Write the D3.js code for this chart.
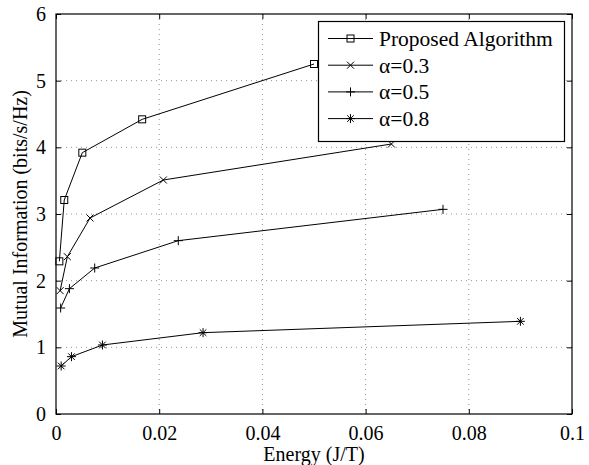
<!DOCTYPE html>
<html>
<head>
<meta charset="utf-8">
<script src="https://cdn.jsdelivr.net/npm/d3@7"></script>
<style>
  body { margin: 0; background: #fff; }
  svg { display: block; font-family: "Liberation Serif", "Times New Roman", serif; }
</style>
</head>
<body>
<svg id="chart" width="589" height="465"></svg>
<script>
// data
const seriesNames = ['Proposed Algorithm', 'α=0.3', 'α=0.5', 'α=0.8'];
const markers = ['square', 'x', 'plus', 'star'];

const energyProposed = [0.00065, 0.0016, 0.0051, 0.0167, 0.050];
const miProposed = [2.29, 3.21, 3.92, 4.42, 5.25];

const energyA03 = [0.0008, 0.0022, 0.0066, 0.0208, 0.065];
const miA03 = [1.85, 2.36, 2.94, 3.51, 4.05];

const energyA05 = [0.0009, 0.0026, 0.0075, 0.0237, 0.075];
const miA05 = [1.59, 1.88, 2.19, 2.60, 3.07];

const energyA08 = [0.001, 0.003, 0.009, 0.0285, 0.090];
const miA08 = [0.72, 0.86, 1.035, 1.22, 1.39];

const xTicks = [0, 0.02, 0.04, 0.06, 0.08, 0.1];
const yTicks = [0, 1, 2, 3, 4, 5, 6];

const series = [
  { name: seriesNames[0], marker: markers[0], xs: energyProposed, ys: miProposed },
  { name: seriesNames[1], marker: markers[1], xs: energyA03, ys: miA03 },
  { name: seriesNames[2], marker: markers[2], xs: energyA05, ys: miA05 },
  { name: seriesNames[3], marker: markers[3], xs: energyA08, ys: miA08 }
];

let svg = d3.select('#chart');

let pLeft = 56, pRight = 572, pTop = 14, pBottom = 414;

let x = d3.scaleLinear().domain([0, 0.1]).range([pLeft, pRight]);
let y = d3.scaleLinear().domain([0, 6]).range([pBottom, pTop]);

let fmtX = (d) => d === 0 ? '0' : String(+d.toFixed(2));

// grid
let grid = svg.append('g').attr('class', 'grid')
  .attr('stroke', '#777').attr('stroke-width', 0.8).attr('stroke-dasharray', '1,4');

grid.selectAll('.gx')
  .data(xTicks.slice(1, -1))
  .enter().append('line')
  .attr('x1', (d) => x(d)).attr('x2', (d) => x(d))
  .attr('y1', pTop).attr('y2', pBottom);

grid.selectAll('.gy')
  .data(yTicks.slice(1, -1))
  .enter().append('line')
  .attr('y1', (d) => y(d)).attr('y2', (d) => y(d))
  .attr('x1', pLeft).attr('x2', pRight);

// axes, ticks pointing inward on all four sides
let axB = svg.append('g')
  .attr('transform', `translate(0,${pBottom})`)
  .call(d3.axisBottom(x).tickValues(xTicks).tickSize(-5).tickPadding(12).tickFormat(fmtX));
let axT = svg.append('g')
  .attr('transform', `translate(0,${pTop})`)
  .call(d3.axisTop(x).tickValues(xTicks).tickSize(-5).tickFormat(''));
let axL = svg.append('g')
  .attr('transform', `translate(${pLeft},0)`)
  .call(d3.axisLeft(y).tickValues(yTicks).tickSize(-5).tickPadding(10).tickFormat(d3.format('d')));
let axR = svg.append('g')
  .attr('transform', `translate(${pRight},0)`)
  .call(d3.axisRight(y).tickValues(yTicks).tickSize(-5).tickFormat(''));

[axB, axT, axL, axR].forEach((a) => {
  a.select('.domain').remove();
  a.selectAll('line').attr('stroke', '#000');
  a.selectAll('text')
    .attr('fill', '#000')
    .style('font-family', '"Liberation Serif", "Times New Roman", serif')
    .style('font-size', '20px');
});
axB.selectAll('text').attr('dy', '0.71em');

// frame
svg.append('rect')
  .attr('x', pLeft).attr('y', pTop)
  .attr('width', pRight - pLeft).attr('height', pBottom - pTop)
  .attr('fill', 'none').attr('stroke', '#000').attr('stroke-width', 1.2);

// axis titles
svg.append('text')
  .attr('x', (pLeft + pRight) / 2).attr('y', 461)
  .attr('text-anchor', 'middle')
  .style('font-size', '20px')
  .text('Energy (J/T)');

svg.append('text')
  .attr('transform', `translate(27,${(pTop + pBottom) / 2}) rotate(-90)`)
  .attr('text-anchor', 'middle')
  .style('font-size', '20px')
  .text('Mutual Information (bits/s/Hz)');

function drawMarker(g, type, cx, cy) {
  let s = 3.5;
  if (type === 'square') {
    g.append('rect')
      .attr('x', cx - s).attr('y', cy - s)
      .attr('width', 2 * s).attr('height', 2 * s)
      .attr('fill', 'none').attr('stroke', '#000');
  } else if (type === 'x') {
    g.append('path')
      .attr('d', `M${cx - s},${cy - s}L${cx + s},${cy + s}M${cx - s},${cy + s}L${cx + s},${cy - s}`)
      .attr('stroke', '#000');
  } else if (type === 'plus') {
    let p = 4.5;
    g.append('path')
      .attr('d', `M${cx - p},${cy}L${cx + p},${cy}M${cx},${cy - p}L${cx},${cy + p}`)
      .attr('stroke', '#000');
  } else {
    let p = 4.5, q = 3.3;
    g.append('path')
      .attr('d', `M${cx - p},${cy}L${cx + p},${cy}M${cx},${cy - p}L${cx},${cy + p}` +
        `M${cx - q},${cy - q}L${cx + q},${cy + q}M${cx - q},${cy + q}L${cx + q},${cy - q}`)
      .attr('stroke', '#000');
  }
}

// lines + markers
let line = d3.line().x((d) => x(d[0])).y((d) => y(d[1]));
let plot = svg.append('g').attr('class', 'lines');

for (let s of series) {
  let pts = s.xs.map((v, i) => [v, s.ys[i]]);
  plot.append('path')
    .datum(pts)
    .attr('d', line)
    .attr('fill', 'none')
    .attr('stroke', '#000')
    .attr('stroke-width', 1);
  let mg = plot.append('g');
  for (let p of pts) {
    drawMarker(mg, s.marker, x(p[0]), y(p[1]));
  }
}

// legend
let lg = svg.append('g').attr('class', 'legend');
lg.append('rect')
  .attr('x', 318.5).attr('y', 21.5)
  .attr('width', 246).attr('height', 120)
  .attr('fill', '#fff').attr('stroke', '#000').attr('stroke-width', 1.2);

series.forEach((s, i) => {
  let ly = 38.5 + i * 26.7;
  lg.append('line')
    .attr('x1', 328).attr('x2', 373)
    .attr('y1', ly).attr('y2', ly)
    .attr('stroke', '#000');
  drawMarker(lg, s.marker, 350.5, ly);
  lg.append('text')
    .attr('x', 379).attr('y', ly)
    .attr('dy', '0.35em')
    .style('font-size', '21.5px')
    .text(s.name);
});
</script>
</body>
</html>
